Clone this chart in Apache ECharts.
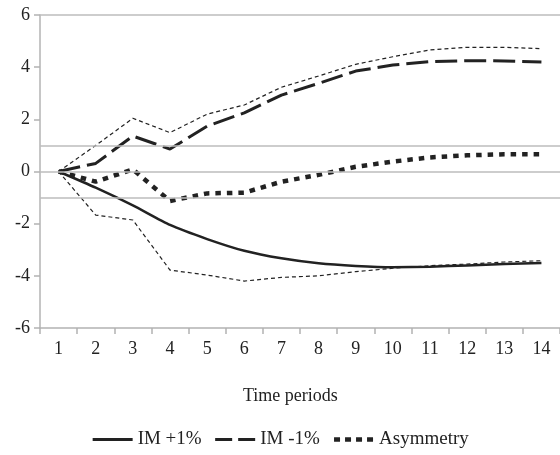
<!DOCTYPE html>
<html><head><meta charset="utf-8">
<script src="https://cdn.jsdelivr.net/npm/echarts@6/dist/echarts.min.js"></script>
<style>html,body{margin:0;padding:0;background:#fff}#c{width:560px;height:455px}</style>
</head><body><div id="c"></div>
<script>
const periods = ['1','2','3','4','5','6','7','8','9','10','11','12','13','14'];
const imPlus = [0,-0.62,-1.3,-2.05,-2.59,-3.04,-3.33,-3.52,-3.62,-3.67,-3.65,-3.6,-3.55,-3.51];
const imPlusLower = [0,-1.67,-1.86,-3.78,-3.97,-4.2,-4.06,-4.0,-3.84,-3.71,-3.61,-3.55,-3.47,-3.42];
const imMinus = [0,0.31,1.36,0.86,1.74,2.25,2.93,3.38,3.85,4.08,4.21,4.25,4.24,4.2];
const imMinusUpper = [0,1.0,2.04,1.49,2.2,2.55,3.23,3.66,4.11,4.4,4.66,4.76,4.76,4.71];
const asymmetry = [0,-0.39,0.08,-1.13,-0.84,-0.81,-0.39,-0.13,0.18,0.38,0.54,0.62,0.66,0.66];
const refLines = [1,0,-1,6];
const yTicks = [-6,6,2];
const legendNames = ['IM +1%','IM -1%','Asymmetry'];

const FONT = 'Liberation Serif';
const legendStyles = [
  {width:2.8,type:'solid'},
  {width:3,type:[17,6]},
  {width:4.5,type:[6,5]}
];
const chart = echarts.init(document.getElementById('c'));
chart.setOption({
  animation:false,
  textStyle:{fontFamily:FONT},
  grid:{left:40,right:-9,top:15,bottom:127},
  xAxis:{type:'category',data:periods,boundaryGap:true,
    axisLine:{onZero:false,lineStyle:{color:'#b3b3b3',width:1.5}},
    axisTick:{show:true,length:6,lineStyle:{color:'#b3b3b3',width:1.5}},
    axisLabel:{color:'#222',fontSize:18,fontFamily:FONT,margin:12},
    splitLine:{show:false}},
  yAxis:{type:'value',min:yTicks[0],max:yTicks[1],interval:yTicks[2],
    axisLine:{show:true,lineStyle:{color:'#b3b3b3',width:1.5}},
    axisTick:{show:true,length:6,lineStyle:{color:'#b3b3b3',width:1.5}},
    axisLabel:{color:'#222',fontSize:18,fontFamily:FONT,margin:10},
    splitLine:{show:false}},
  legend:{data:legendNames.map((n,i)=>({name:n,lineStyle:Object.assign({color:'#222'},legendStyles[i])})),
    bottom:1,left:'center',
    itemWidth:40,itemHeight:14,itemGap:12,
    itemStyle:{opacity:0},
    textStyle:{color:'#222',fontSize:19,fontFamily:FONT}},
  graphic:[{type:'text',left:243,top:387,style:{text:'Time periods',font:'18px "Liberation Serif"',fill:'#222'}}],
  series:[
    {name:'ref',type:'line',data:[],silent:true,
      markLine:{symbol:'none',silent:true,label:{show:false},
        lineStyle:{color:'#bdbdbd',width:1.5,type:'solid'},
        data:refLines.map(v=>({yAxis:v}))}},
    {name:'upper',type:'line',data:imMinusUpper,symbol:'none',
      lineStyle:{color:'#222',width:1.2,type:[4,3]}},
    {name:'lower',type:'line',data:imPlusLower,symbol:'none',
      lineStyle:{color:'#222',width:1.2,type:[4,3]}},
    {name:legendNames[0],type:'line',data:imPlus,symbol:'none',smooth:0.2,
      lineStyle:{color:'#222',width:2.5,type:'solid'},itemStyle:{color:'#222'}},
    {name:legendNames[1],type:'line',data:imMinus,symbol:'none',
      lineStyle:{color:'#222',width:3,type:[22,7]},itemStyle:{color:'#222'}},
    {name:legendNames[2],type:'line',data:asymmetry,symbol:'none',
      lineStyle:{color:'#222',width:4.5,type:[5.5,6]},itemStyle:{color:'#222'}}
  ]
});
</script></body></html>
